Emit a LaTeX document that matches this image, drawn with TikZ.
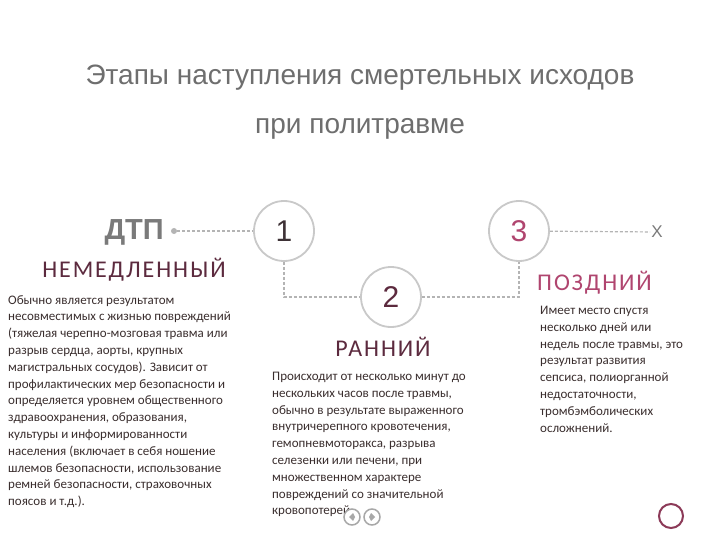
\documentclass[tikz,border=0pt]{standalone}
\usepackage{fontspec}
\setmainfont{Carlito}
\newfontfamily\titlefont{Liberation Sans}
\newfontfamily\spacedfont[LetterSpace=8]{Carlito}
\usetikzlibrary{positioning}

\definecolor{circlegray}{HTML}{C9C9C9}
\definecolor{linegray}{HTML}{B4B4B4}
\definecolor{titlegray}{HTML}{6E6E6E}
\definecolor{dtpgray}{HTML}{7A7A7A}
\definecolor{numgray}{HTML}{3E3236}
\definecolor{stagemaroon}{HTML}{5C2A3E}
\definecolor{stagepink}{HTML}{B0456F}
\definecolor{bodytext}{HTML}{3A2E2E}
\definecolor{navgray}{HTML}{A8A8A8}
\definecolor{ringred}{HTML}{8C3A58}

\begin{document}
\begin{tikzpicture}[x=1pt, y=-1pt,
		stagecircle/.style={circle, draw=circlegray, line width=1.8pt, minimum size=60pt, inner sep=0pt,
			font=\titlefont\fontsize{30}{30}\selectfont},
		link/.style={draw=linegray, line width=1.2pt, dash pattern=on 3pt off 2pt},
		stagename/.style={font=\spacedfont\fontsize{24}{24}\selectfont, inner sep=0pt},
		stagetext/.style={font=\fontsize{13}{16.8}\selectfont, align=left, anchor=north west,
			inner sep=0pt, text=bodytext},
		navbutton/.style={circle, draw=navgray, line width=1.5pt, fill=white, minimum size=16pt, inner sep=0pt}
	]
	\useasboundingbox[fill=white] (0,0) rectangle (720,540);

	% heading
	\node[font=\titlefont\fontsize{28}{28}\selectfont, text=titlegray] (title1) at (360,78)
		{Этапы наступления смертельных исходов};
	\node[font=\titlefont\fontsize{28}{28}\selectfont, text=titlegray] (title2) at (360,129)
		{при политравме};

	% stages
	\node[stagecircle, text=numgray] (one) at (284,231) {1};
	\node[stagecircle, text=stagemaroon] (two) at (391,297) {2};
	\node[stagecircle, text=stagepink] (three) at (519,231) {3};

	\node[font=\titlefont\bfseries\fontsize{29}{29}\selectfont, text=dtpgray, anchor=east, inner sep=0pt]
		(dtp) at (164,232) {ДТП};
	\node[circle, fill=linegray, inner sep=0pt, minimum size=6pt] (dot) at (174,231) {};
	\node[font=\titlefont\fontsize{17}{17}\selectfont, text=dtpgray, inner sep=1pt] (finish) at (657,232) {X};

	\draw[link] (dot) -- (one);
	\draw[link] (one) |- (two);
	\draw[link] (two) -| (three);
	\draw[link] (three) -- (finish);

	% stage names and texts
	\node[stagename, text=stagemaroon] (immediate) at (134,270) {НЕМЕДЛЕННЫЙ};
	\node[stagename, text=stagemaroon] (early) at (383,347) {РАННИЙ};
	\node[stagename, text=stagepink, anchor=west] (late) at (537,283) {ПОЗДНИЙ};

	\node[stagetext] (immediatetext) at (8,295) {Обычно является результатом\\
		несовместимых с жизнью повреждений\\
		(тяжелая черепно-мозговая травма или\\
		разрыв сердца, аорты, крупных\\
		магистральных сосудов). Зависит от\\
		профилактических мер безопасности и\\
		определяется уровнем общественного\\
		здравоохранения, образования,\\
		культуры и информированности\\
		населения (включает в себя ношение\\
		шлемов безопасности, использование\\
		ремней безопасности, страховочных\\
		поясов и т.д.).};
	\node[stagetext] (earlytext) at (272,372) {Происходит от несколько минут до\\
		нескольких часов после травмы,\\
		обычно в результате выраженного\\
		внутричерепного кровотечения,\\
		гемопневмоторакса, разрыва\\
		селезенки или печени, при\\
		множественном характере\\
		повреждений со значительной\\
		кровопотерей.};
	\node[stagetext] (latetext) at (540,306) {Имеет место спустя\\
		несколько дней или\\
		недель после травмы, это\\
		результат развития\\
		сепсиса, полиорганной\\
		недостаточности,\\
		тромбэмболических\\
		осложнений.};

	% slide controls
	\node[navbutton] (back) at (352,517) {};
	\node[navbutton] (forward) at (372,517) {};
	\fill[navgray] ([xshift=3pt]back.center) -- ([xshift=-3pt]back.center) -- ([xshift=1pt,yshift=4pt]back.center) -- cycle;
	\fill[navgray] ([xshift=3pt]back.center) -- ([xshift=-3pt]back.center) -- ([xshift=1pt,yshift=-4pt]back.center) -- cycle;
	\fill[navgray] ([xshift=-3pt]forward.center) -- ([xshift=3pt]forward.center) -- ([xshift=-1pt,yshift=4pt]forward.center) -- cycle;
	\fill[navgray] ([xshift=-3pt]forward.center) -- ([xshift=3pt]forward.center) -- ([xshift=-1pt,yshift=-4pt]forward.center) -- cycle;
	\node[circle, draw=ringred, line width=2pt, minimum size=24pt, inner sep=0pt] (ring) at (671,516) {};
\end{tikzpicture}
\end{document}
